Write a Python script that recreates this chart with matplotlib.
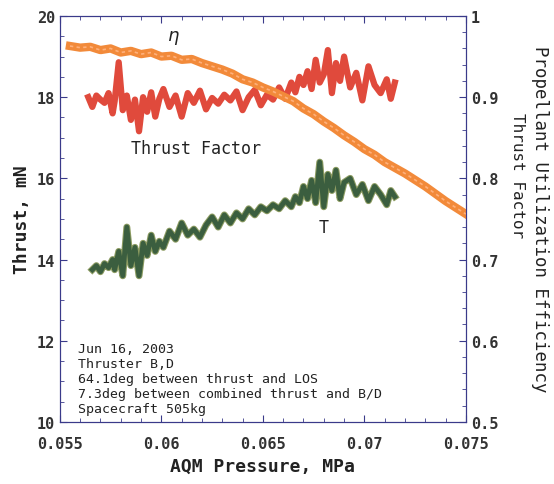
import numpy as np
import matplotlib.pyplot as plt
from matplotlib.ticker import MultipleLocator

# propellant utilization efficiency (right axis)
eta_x = [0.0555, 0.0560, 0.0565, 0.0570, 0.0575, 0.0580, 0.0585, 0.0590, 0.0595, 0.0600,
         0.0605, 0.0610, 0.0615, 0.0620, 0.0625, 0.0630, 0.0635, 0.0640, 0.0645, 0.0650,
         0.0655, 0.0660, 0.0665, 0.0670, 0.0675, 0.0680, 0.0685, 0.0690, 0.0695, 0.0700,
         0.0705, 0.0710, 0.0715, 0.0720, 0.0725, 0.0730, 0.0735, 0.0740, 0.0745, 0.0750]
eta_y = [0.963, 0.961, 0.962, 0.958, 0.960, 0.955, 0.957, 0.953, 0.955, 0.950,
         0.951, 0.946, 0.947, 0.942, 0.938, 0.934, 0.929, 0.922, 0.918, 0.912,
         0.907, 0.901, 0.895, 0.886, 0.879, 0.870, 0.862, 0.853, 0.845, 0.836,
         0.829, 0.820, 0.813, 0.806, 0.798, 0.790, 0.781, 0.772, 0.764, 0.756]

# thrust factor (right axis)
tf_x = [0.0564, 0.0566, 0.0568, 0.0570, 0.0572, 0.0574, 0.0576, 0.0577, 0.0579, 0.0581,
        0.0583, 0.0585, 0.0587, 0.0589, 0.0591, 0.0593, 0.0595, 0.0597, 0.0599, 0.0601,
        0.0604, 0.0607, 0.0610, 0.0613, 0.0616, 0.0619, 0.0622, 0.0625, 0.0628, 0.0631,
        0.0634, 0.0637, 0.0640, 0.0643, 0.0646, 0.0649, 0.0652, 0.0655, 0.0658, 0.0661,
        0.0664, 0.0666, 0.0668, 0.0670, 0.0672, 0.0674, 0.0676, 0.0678, 0.0680, 0.0682,
        0.0684, 0.0686, 0.0688, 0.0690, 0.0693, 0.0696, 0.0699, 0.0702, 0.0705, 0.0708,
        0.0711, 0.0713, 0.0715]
tf_y = [0.900, 0.888, 0.902, 0.897, 0.893, 0.905, 0.880, 0.895, 0.943, 0.884,
        0.902, 0.872, 0.897, 0.858, 0.900, 0.882, 0.906, 0.876, 0.898, 0.910,
        0.888, 0.902, 0.876, 0.905, 0.893, 0.908, 0.885, 0.899, 0.892, 0.903,
        0.896, 0.907, 0.884, 0.900, 0.909, 0.890, 0.903, 0.897, 0.912, 0.898,
        0.918, 0.906, 0.925, 0.915, 0.932, 0.910, 0.946, 0.918, 0.928, 0.958,
        0.905, 0.942, 0.920, 0.950, 0.912, 0.930, 0.896, 0.938, 0.915, 0.905,
        0.922, 0.898, 0.918]

# thrust (left axis)
t_x = [0.0566, 0.0568, 0.0570, 0.0572, 0.0574, 0.0576, 0.0577, 0.0579, 0.0581, 0.0583,
       0.0585, 0.0587, 0.0589, 0.0591, 0.0593, 0.0595, 0.0597, 0.0599, 0.0601, 0.0604,
       0.0607, 0.0610, 0.0613, 0.0616, 0.0619, 0.0622, 0.0625, 0.0628, 0.0631, 0.0634,
       0.0637, 0.0640, 0.0643, 0.0646, 0.0649, 0.0652, 0.0655, 0.0658, 0.0661, 0.0664,
       0.0666, 0.0668, 0.0670, 0.0672, 0.0674, 0.0676, 0.0678, 0.0680, 0.0682, 0.0684,
       0.0686, 0.0688, 0.0690, 0.0693, 0.0696, 0.0699, 0.0702, 0.0705, 0.0708, 0.0711,
       0.0713, 0.0715]
t_y = [13.75, 13.85, 13.70, 13.90, 13.80, 14.00, 13.75, 14.20, 13.60, 14.80,
       13.85, 14.30, 13.60, 14.40, 14.10, 14.60, 14.20, 14.45, 14.30, 14.70,
       14.50, 14.90, 14.60, 14.75, 14.55, 14.85, 15.05, 14.80, 15.10, 14.90,
       15.15, 15.00, 15.25, 15.10, 15.30, 15.20, 15.35, 15.25, 15.45, 15.30,
       15.55, 15.40, 15.80, 15.50, 15.95, 15.40, 16.40, 15.30, 16.10, 15.70,
       16.20, 15.50, 15.90, 16.00, 15.60, 15.85, 15.45, 15.80, 15.60, 15.35,
       15.70, 15.55]

notes = ["Jun 16, 2003", "Thruster B,D", "64.1deg between thrust and LOS",
         "7.3deg between combined thrust and B/D", "Spacecraft 505kg"]

plt.rcParams['font.family'] = ['DejaVu Sans Mono']
navy = '#3a3a8a'
ink = '#222222'

fig = plt.figure(figsize=(5.54, 4.85), dpi=100)
ax = fig.add_axes([0.108, 0.128, 0.733, 0.837])
ax2 = ax.twinx()

ax.plot(t_x, t_y, color='#8d9c62', lw=5, solid_joinstyle='round')
ax.plot(t_x, t_y, color='#3b5e3f', lw=3.5, solid_joinstyle='round')
ax2.plot(tf_x, tf_y, color='#e04a3c', lw=4.5, solid_joinstyle='round')
ax2.plot(eta_x, eta_y, color='#f28a3a', lw=6, solid_joinstyle='round')
ax2.plot(eta_x, eta_y, color='#ffb07a', lw=1.2, ls=(0, (2, 2)))

ax.set_xlim(0.055, 0.075)
ax.set_ylim(10, 20)
ax2.set_ylim(0.5, 1.0)

ax.set_xticks([0.055, 0.06, 0.065, 0.07, 0.075])
ax.set_xticklabels(['0.055', '0.06', '0.065', '0.07', '0.075'])
ax.xaxis.set_minor_locator(MultipleLocator(0.001))
ax.set_yticks([10, 12, 14, 16, 18, 20])
ax.yaxis.set_minor_locator(MultipleLocator(0.5))
ax2.set_yticks([0.5, 0.6, 0.7, 0.8, 0.9, 1.0])
ax2.set_yticklabels(['0.5', '0.6', '0.7', '0.8', '0.9', '1'])
ax2.yaxis.set_minor_locator(MultipleLocator(0.02))

for a in (ax, ax2):
    a.tick_params(which='both', direction='in', colors=navy, labelcolor='#333333',
                  labelsize=11)
    a.tick_params(which='major', length=5)
    a.tick_params(which='minor', length=3)
    for s in a.spines.values():
        s.set_color(navy)
ax.tick_params(axis='x', which='both', top=True, pad=10)
for lab in ax.get_xticklabels() + ax.get_yticklabels() + ax2.get_yticklabels():
    lab.set_fontweight('bold')

ax.set_xlabel('AQM Pressure, MPa', fontsize=13, fontweight='bold', labelpad=4,
              color=ink)
ax.set_ylabel('Thrust, mN', fontsize=13, fontweight='bold', color=ink)
fig.text(0.975, 0.548, 'Propellant Utilization Efficiency', rotation=-90,
         fontsize=12.5, ha='center', va='center', color=ink)
fig.text(0.934, 0.637, 'Thrust Factor', rotation=-90, fontsize=11.5,
         ha='center', va='center', color=ink)

ax.text(0.0603, 19.4, r'$\eta$', fontsize=13, color=ink)
ax.text(0.0617, 16.75, 'Thrust Factor', fontsize=12, ha='center', va='center',
        color=ink)
ax.text(0.0680, 14.8, 'T', fontsize=12, ha='center', va='center', color=ink)
ax.text(0.0559, 10.18, '\n'.join(notes), fontsize=9.5, va='bottom', ha='left',
        color=ink, linespacing=1.18)

fig.savefig('out.png', dpi=100)
